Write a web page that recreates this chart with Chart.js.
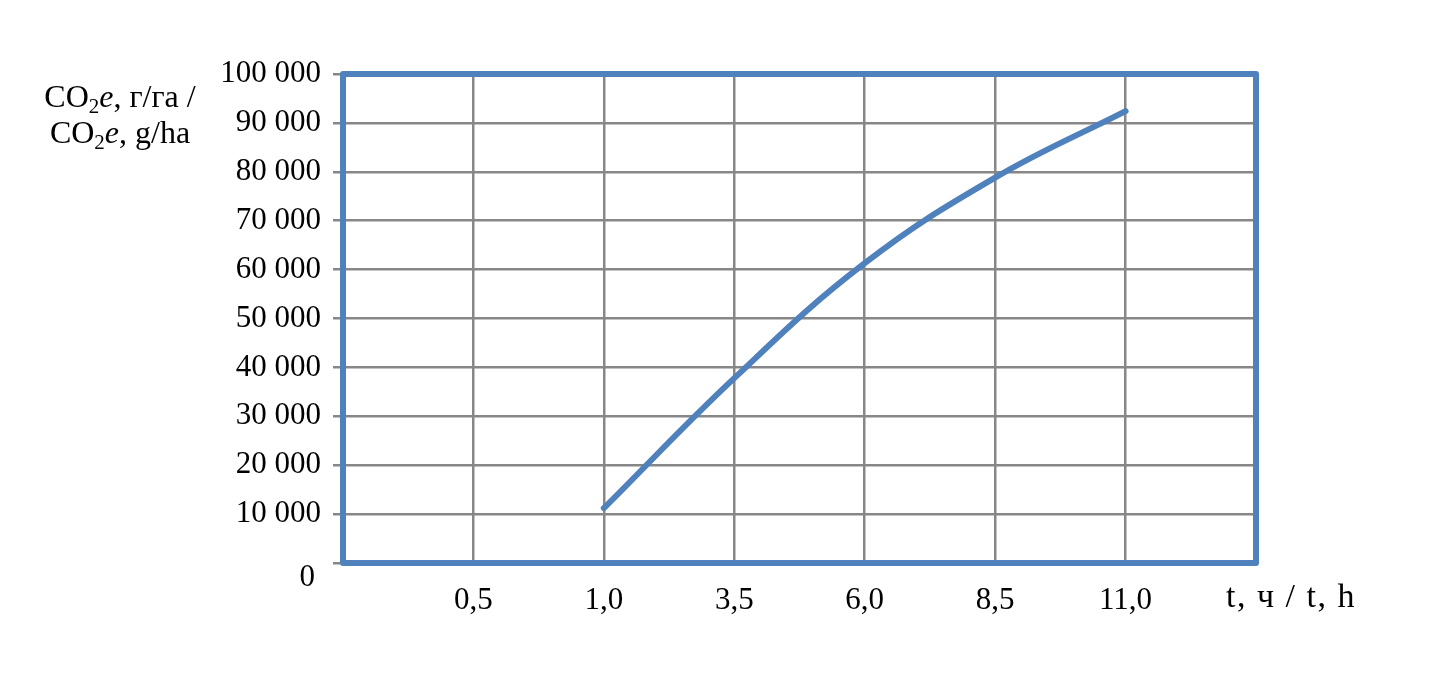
<!DOCTYPE html>
<html>
<head>
<meta charset="utf-8">
<script src="https://cdn.jsdelivr.net/npm/chart.js@4"></script>
<style>
  html, body { margin: 0; padding: 0; background: #fff; }
  #wrap { width: 1452px; height: 676px; position: relative; }
</style>
</head>
<body>
<div id="wrap"><canvas id="co2-chart" width="1452" height="676"></canvas></div>
<script>
// data
const timeLabels = ['', '0,5', '1,0', '3,5', '6,0', '8,5', '11,0', ''];
const co2Values = [null, null, 11200, 37800, 61300, 78800, 92400, null];
const yMin = 0;
const yMax = 100000;
const yStep = 10000;

const SERIF = '"Liberation Serif", "Times New Roman", serif';
const BLUE = '#4f81bd';
const GRID = '#878787';

const fmt = v => String(v).replace(/\B(?=(\d{3})+(?!\d))/g, ' ');

// draws a line of text made of pieces: normal, subscript, italic
function drawRich(ctx, parts, cx, baseline, size) {
  const fontOf = p => (p.italic ? 'italic ' : '') + (p.sub ? Math.round(size * 0.65) : size) + 'px ' + SERIF;
  let total = 0;
  parts.forEach(p => { ctx.font = fontOf(p); total += ctx.measureText(p.t).width; });
  let x = cx - total / 2;
  parts.forEach(p => {
    ctx.font = fontOf(p);
    ctx.fillText(p.t, x, baseline + (p.sub ? size * 0.2 : 0));
    x += ctx.measureText(p.t).width;
  });
}

const framePlugin = {
  id: 'frame',
  afterDraw(chart) {
    const { ctx, chartArea: a, scales } = chart;
    ctx.save();
    ctx.strokeStyle = BLUE;
    ctx.lineWidth = 6;
    ctx.lineJoin = 'round';
    ctx.strokeRect(a.left, a.top, a.right - a.left, a.bottom - a.top);

    ctx.fillStyle = '#000';
    ctx.textAlign = 'left';
    ctx.textBaseline = 'alphabetic';
    // y axis title
    drawRich(ctx, [{ t: 'CO' }, { t: '2', sub: true }, { t: 'e', italic: true }, { t: ', г/га /' }], 120, 107, 32);
    drawRich(ctx, [{ t: 'CO' }, { t: '2', sub: true }, { t: 'e', italic: true }, { t: ', g/ha' }], 120, 143, 32);

    // zero label sits below the axis in the reference
    ctx.font = '31px ' + SERIF;
    ctx.textAlign = 'right';
    ctx.textBaseline = 'middle';
    ctx.fillText(fmt(yMin), 315, scales.y.getPixelForValue(yMin) + 15);

    // x axis title
    ctx.font = '34px ' + SERIF;
    ctx.textAlign = 'left';
    ctx.textBaseline = 'alphabetic';
    ctx.letterSpacing = '1.5px';
    ctx.fillText('t, ч / t, h', 1226, 607);
    ctx.restore();
  }
};

new Chart(document.getElementById('co2-chart'), {
  type: 'line',
  data: {
    labels: timeLabels,
    datasets: [{
      data: co2Values,
      borderColor: BLUE,
      borderWidth: 6,
      borderCapStyle: 'round',
      tension: 0.4,
      pointRadius: 0,
      fill: false,
    }]
  },
  options: {
    responsive: false,
    animation: false,
    layout: { padding: { top: 74, right: 196, left: 0, bottom: 0 } },
    plugins: { legend: { display: false }, tooltip: { enabled: false } },
    scales: {
      x: {
        type: 'category',
        offset: false,
        grid: { color: GRID, lineWidth: 2.5, drawTicks: false },
        border: { display: false },
        ticks: { color: '#000', font: { family: SERIF, size: 31 }, padding: 19, maxRotation: 0, autoSkip: false },
        afterFit(s) { s.height = 113; },
      },
      y: {
        min: yMin, max: yMax,
        grid: { color: GRID, lineWidth: 2.5, tickLength: 10 },
        border: { display: false },
        ticks: {
          stepSize: yStep,
          color: '#000',
          font: { family: SERIF, size: 31 },
          padding: 12,
          callback: v => (v === yMin ? '' : fmt(v)),
        },
        afterFit(s) { s.width = 343; },
      }
    }
  },
  plugins: [framePlugin]
});
</script>
</body>
</html>
